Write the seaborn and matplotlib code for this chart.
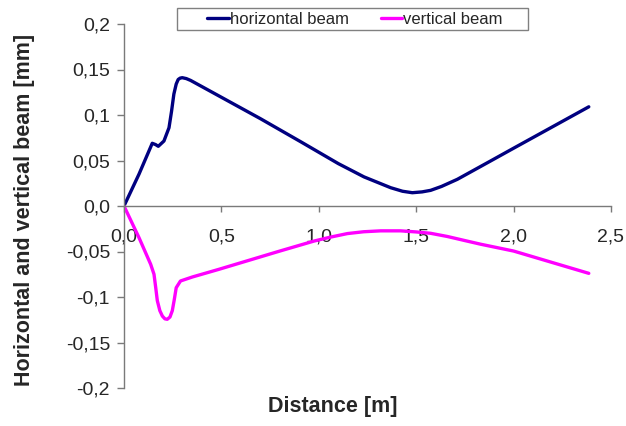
import matplotlib
matplotlib.use("Agg")
import matplotlib.pyplot as plt
from matplotlib.patches import Rectangle
import seaborn as sns
import pandas as pd

# Beam deflection along the measured distance
horiz_x = [0.0, 0.077, 0.145, 0.162, 0.176, 0.205, 0.231, 0.244, 0.256, 0.268,
           0.278, 0.288, 0.299, 0.320, 0.342, 0.487, 0.700, 0.908, 1.100, 1.232,
           1.369, 1.430, 1.480, 1.530, 1.574, 1.630, 1.711, 1.882, 2.000, 2.386]
horiz_y = [0.0, 0.035, 0.0689, 0.0675, 0.0656, 0.0714, 0.086, 0.104, 0.123, 0.134,
           0.139, 0.1405, 0.141, 0.140, 0.138, 0.121, 0.096, 0.0705, 0.0466, 0.032,
           0.0201, 0.0162, 0.0146, 0.0155, 0.0172, 0.0215, 0.0293, 0.0495, 0.0635, 0.109]

vert_x = [0.0, 0.077, 0.137, 0.154, 0.163, 0.171, 0.184, 0.197, 0.210, 0.222,
          0.236, 0.248, 0.258, 0.268, 0.290, 0.351, 0.487, 0.800, 0.976, 1.060,
          1.147, 1.230, 1.318, 1.420, 1.500, 1.574, 1.660, 1.750, 1.831, 2.000, 2.386]
vert_y = [0.0, -0.0348, -0.0641, -0.075, -0.090, -0.104, -0.115, -0.121, -0.124, -0.1245,
          -0.122, -0.115, -0.103, -0.0898, -0.0824, -0.078, -0.0696, -0.0495, -0.0385, -0.0342,
          -0.0303, -0.0283, -0.0273, -0.0273, -0.0285, -0.030, -0.0335, -0.038, -0.042, -0.0495, -0.074]

series_names = ["horizontal beam", "vertical beam"]
series_colors = ["#000080", "#FF00FF"]

x_ticks = [0.0, 0.5, 1.0, 1.5, 2.0, 2.5]
x_tick_labels = ["0,0", "0,5", "1,0", "1,5", "2,0", "2,5"]
y_ticks = [0.2, 0.15, 0.1, 0.05, 0.0, -0.05, -0.1, -0.15, -0.2]
y_tick_labels = ["0,2", "0,15", "0,1", "0,05", "0,0", "-0,05", "-0,1", "-0,15", "-0,2"]

df = pd.concat([
    pd.DataFrame({"Distance": horiz_x, "Value": horiz_y, "Series": series_names[0]}),
    pd.DataFrame({"Distance": vert_x, "Value": vert_y, "Series": series_names[1]}),
], ignore_index=True)

sns.set_style("white")
plt.rcParams["font.family"] = ["Liberation Sans", "DejaVu Sans"]

W, H = 626, 426
fig = plt.figure(figsize=(W / 100, H / 100), dpi=100)
ax = fig.add_axes([124 / W, 1 - 388 / H, (611 - 124) / W, (388 - 24) / H])

sns.lineplot(data=df, x="Distance", y="Value", hue="Series", hue_order=series_names,
             palette=series_colors, sort=False, estimator=None, linewidth=2.4, ax=ax)
for line in ax.get_lines():
    line.set_solid_joinstyle("round")

ax.set_xlim(0, 2.5)
ax.set_ylim(-0.2, 0.2)
ax.set_xticks(x_ticks)
ax.set_xticklabels(x_tick_labels)
ax.set_yticks(y_ticks)
ax.set_yticklabels(y_tick_labels)

axis_color = "#7a7a7a"
for side in ("top", "right"):
    ax.spines[side].set_visible(False)
ax.spines["bottom"].set_position(("data", 0))
for side in ("left", "bottom"):
    ax.spines[side].set_color(axis_color)
    ax.spines[side].set_linewidth(1.0)

ax.tick_params(axis="x", direction="out", length=4, width=1, color=axis_color,
               labelsize=14, pad=12, bottom=True)
ax.tick_params(axis="y", direction="out", length=5, width=1, color=axis_color,
               labelsize=14, pad=5, left=True)

ax.set_xlabel("Distance [m]", fontsize=15.5, fontweight="bold")
ax.set_ylabel("Horizontal and vertical beam [mm]", fontsize=15.5, fontweight="bold")
ax.xaxis.set_label_coords(0.428, -0.022)
ax.yaxis.set_label_coords(-0.183, 0.49)

# Legend entries in one row inside a plain grey box
leg = ax.legend(loc="center", bbox_to_anchor=(355 / W, 1 - 19 / H),
                bbox_transform=fig.transFigure, ncol=2, frameon=False,
                fontsize=12, handlelength=1.3, handletextpad=0.05, columnspacing=1.9,
                borderpad=0.15, borderaxespad=0)
for line in leg.get_lines():
    line.set_linewidth(2.4)
fig.patches.append(Rectangle((177 / W, 1 - 30 / H), (528 - 177) / W, 22 / H,
                             transform=fig.transFigure, facecolor="none",
                             edgecolor="#808080", linewidth=1.0))

fig.savefig("out.png", dpi=100)
